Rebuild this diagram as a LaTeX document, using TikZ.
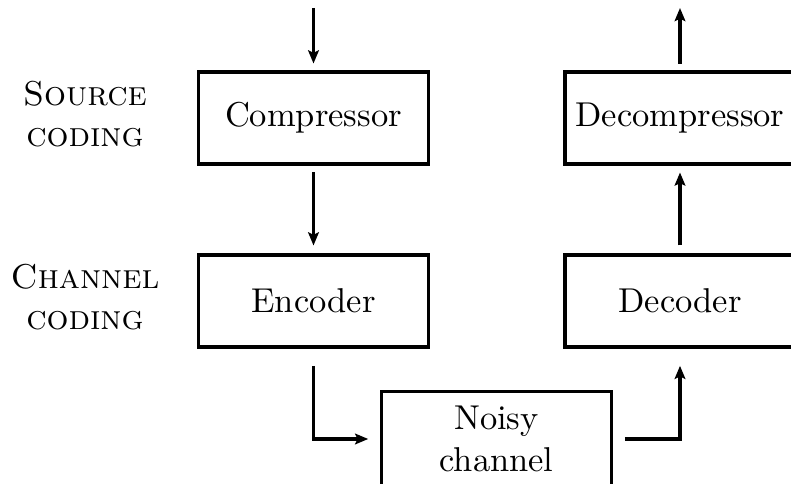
\documentclass[tikz,border=0pt]{standalone}
\usetikzlibrary{arrows.meta}
\begin{document}
\begin{tikzpicture}[x=0.29pt,y=-0.29pt,
  stage/.style={draw, line width=0.9pt, minimum width=66.7pt, minimum height=26.7pt,
                inner sep=0pt, align=center},
  flow/.style={line width=0.9pt, -{Stealth[length=3.8pt,width=3.1pt,inset=0.7pt]}},
  layer/.style={align=center, font=\scshape, inner sep=0pt}]
  \useasboundingbox (0,0) rectangle (791,484);

  % processing stages
  \node[stage] (comp)   at (313.5,118) {Compressor};
  \node[stage] (enc)    at (313.5,301) {Encoder};
  \node[stage] (decomp) at (680,118)   {Decompressor};
  \node[stage] (dec)    at (680,301)   {Decoder};
  \node[stage, minimum height=27.3pt] (noisy) at (496.5,439) {Noisy\\channel};

  % layer labels
  \node[layer] (src) at (85,114) {Source\\coding};
  \node[layer] (chn) at (85,297) {Channel\\coding};

  % free ends of the input and output
  \coordinate (in)  at (313.5,8);
  \coordinate (out) at (680,8);

  % signal path
  \draw[flow, shorten >=2pt] (in) -- (comp.north);
  \draw[flow, shorten <=2pt, shorten >=2.3pt] (comp.south) -- (enc.north);
  \draw[flow, shorten <=5pt, shorten >=3.4pt] (enc.south) |- (noisy.west);
  \draw[flow, shorten <=3.4pt, shorten >=5pt] (noisy.east) -| (dec.south);
  \draw[flow, shorten <=2.3pt, shorten >=2pt] (dec.north) -- (decomp.south);
  \draw[flow, shorten <=2pt] (decomp.north) -- (out);
\end{tikzpicture}
\end{document}
